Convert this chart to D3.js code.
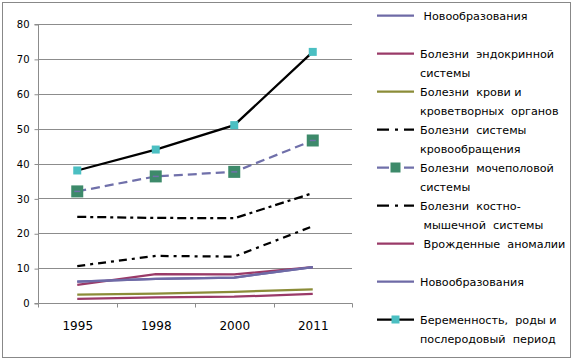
<!DOCTYPE html>
<html><head><meta charset="utf-8">
<script src="https://cdn.jsdelivr.net/npm/d3@7"></script>
<style>body{margin:0;background:#fff}svg{display:block}</style>
</head><body>
<svg id="c" width="573" height="360"></svg>
<script>
const years = ["1995","1998","2000","2011"];
const yTicks = [0,10,20,30,40,50,60,70,80];
const neoplasms = [6.1, 6.9, 7.3, 10.3];
const endocrine = [5.2, 8.3, 8.2, 10.3];
const blood = [2.4, 2.7, 3.2, 3.9];
const circulatory = [24.7, 24.4, 24.3, 31.5];
const urogenital = [32.0, 36.3, 37.6, 46.6];
const musculoskeletal = [10.6, 13.5, 13.3, 22.0];
const congenital = [1.2, 1.6, 1.8, 2.6];
const neoplasms2 = [6.1, 6.9, 7.3, 10.3];
const pregnancy = [38.0, 44.0, 51.0, 72.0];

const seriesNames = [
  [" Новообразования"],
  ["Болезни  эндокринной", "системы"],
  ["Болезни  крови и", "кроветворных  органов"],
  ["Болезни  системы", "кровообращения"],
  ["Болезни  мочеполовой", "системы"],
  ["Болезни  костно-", " мышечной  системы"],
  [" Врожденные  аномалии"],
  ["Новообразования"],
  ["Беременность,  роды и", "послеродовый  период"]
];
const seriesData = [neoplasms, endocrine, blood, circulatory, urogenital, musculoskeletal, congenital, neoplasms2, pregnancy];
const styles = [
  {color:"#6e6aa6", dash:null, marker:null},
  {color:"#9a3a68", dash:null, marker:null},
  {color:"#8b8c38", dash:null, marker:null},
  {color:"#000000", dash:"9,4,3,4", marker:null},
  {color:"#7070aa", dash:"9,5", marker:{size:12, fill:"#3d8a6a"}},
  {color:"#000000", dash:"8,5,3,5", marker:null},
  {color:"#9a3a68", dash:null, marker:null},
  {color:"#6e6aa6", dash:null, marker:null},
  {color:"#000000", dash:null, marker:{size:8, fill:"#4bbfc2"}}
];

const svg = d3.select("#c");
svg.append("rect").attr("x",2.5).attr("y",2.5).attr("width",568).attr("height",355)
  .attr("fill","#fff").attr("stroke","#888");

const x = d3.scaleBand().domain(years).range([38,352]).padding(0);
const y = d3.scaleLinear().domain([0,80]).range([303,24]);
const cx = d => x(d) + x.bandwidth()/2;

// gridlines
svg.append("g").selectAll("line").data(yTicks.filter(t=>t>0)).join("line")
  .attr("x1",38).attr("x2",352).attr("y1",d=>Math.round(y(d))+0.5).attr("y2",d=>Math.round(y(d))+0.5)
  .attr("stroke","#8c8c8c").attr("stroke-width",1);

// y axis
const ya = svg.append("g").attr("transform","translate(38.5,0.5)")
  .call(d3.axisLeft(y).tickValues(yTicks).tickSize(4).tickPadding(5).tickFormat(d3.format("d")));
ya.selectAll("path,line").attr("stroke","#8c8c8c");
ya.selectAll("text").attr("font-family","DejaVu Sans").attr("font-size","10px").attr("fill","#000");
ya.select(".domain").attr("d","M-4,"+y(80)+"H0V"+y(0)+"H-4");

// x axis
const xa = svg.append("g").attr("transform","translate(0.5,"+(Math.round(y(0))+0.5)+")")
  .call(d3.axisBottom(x).tickSize(0).tickPadding(18));
xa.selectAll("path").attr("stroke","#8c8c8c").attr("d","M38,0H352");
xa.selectAll("text").attr("font-family","DejaVu Sans").attr("font-size","12px").attr("fill","#000");
xa.append("g").selectAll("line").data([38,117,195,274,352]).join("line")
  .attr("x1",d=>d).attr("x2",d=>d).attr("y1",0).attr("y2",4).attr("stroke","#8c8c8c");

// lines
const line = d3.line().x((d,i)=>cx(years[i])).y(d=>y(d));
const order = [2,6,1,0,7,5,3,4,8];
order.forEach(k=>{
  const s = styles[k];
  svg.append("path").attr("d", line(seriesData[k])).attr("fill","none")
    .attr("stroke", s.color).attr("stroke-width", 2.25)
    .attr("stroke-dasharray", s.dash);
  if (s.marker) {
    svg.append("g").selectAll("rect").data(seriesData[k]).join("rect")
      .attr("x",(d,i)=>cx(years[i])-s.marker.size/2).attr("y",d=>y(d)-s.marker.size/2)
      .attr("width",s.marker.size).attr("height",s.marker.size).attr("fill",s.marker.fill);
    if (k===4) {
      svg.append("g").selectAll("line").data(seriesData[k]).join("line")
        .attr("x1",(d,i)=>cx(years[i])-3).attr("x2",(d,i)=>cx(years[i])+3)
        .attr("y1",d=>y(d)).attr("y2",d=>y(d)).attr("stroke","#7070aa").attr("stroke-width",1.5);
    }
  }
});

// legend
const lg = svg.append("g");
seriesNames.forEach((lines,i)=>{
  const ly = 15.5 + i*38;
  const s = styles[i];
  lg.append("line").attr("x1",377).attr("x2",414).attr("y1",ly).attr("y2",ly)
    .attr("stroke",s.color).attr("stroke-width",2.25)
    .attr("stroke-dasharray", s.dash ? "12,6,3,6" : null);
  if (s.marker) {
    const m = s.marker.size > 8 ? 10 : 8;
    lg.append("rect").attr("x",395.5-m/2).attr("y",ly-m/2).attr("width",m).attr("height",m).attr("fill",s.marker.fill);
  }
  const t = lg.append("text").attr("font-family","DejaVu Sans").attr("font-size","11.2px")
    .attr("fill","#000").attr("xml:space","preserve");
  lines.forEach((l,j)=>{
    t.append("tspan").attr("x",420).attr("y", ly + 4 + j*19).text(l);
  });
});
</script>
</body></html>
